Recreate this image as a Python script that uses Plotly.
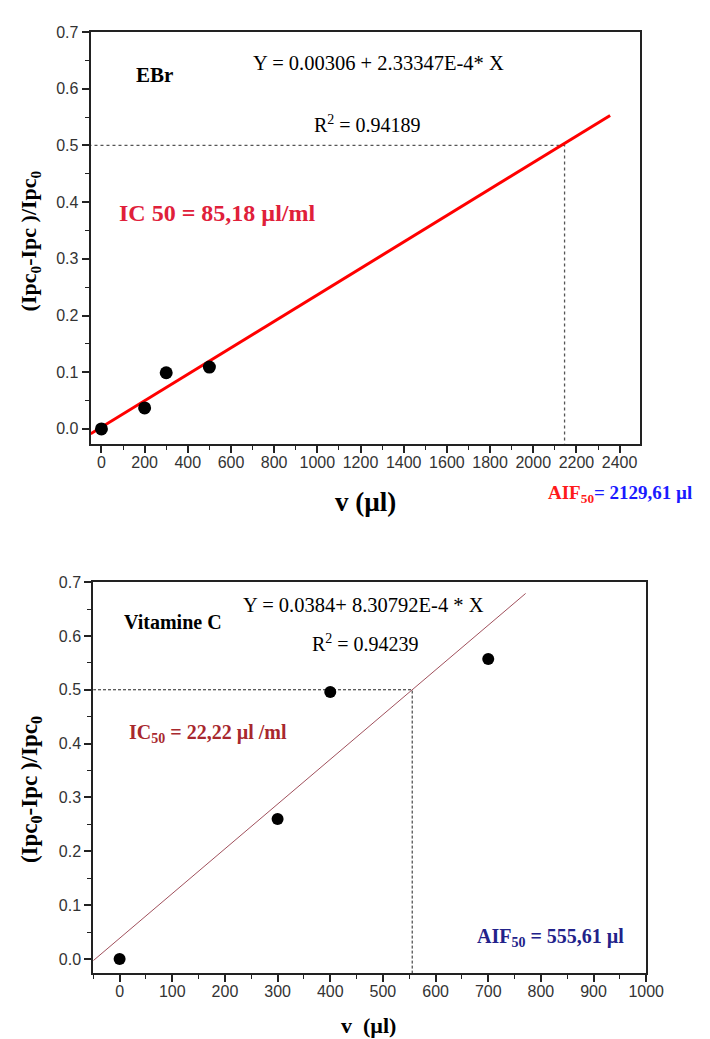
import plotly.graph_objects as go

# ---- data: EBr (top panel) ----
ebr_v = [0, 200, 300, 500]
ebr_y = [0.0, 0.037, 0.099, 0.109]
ebr_intercept = 0.00306
ebr_slope = 2.33347e-4
ebr_fit_x = [-50, 2356]
ebr_aif_drawn = 2145

# ---- data: Vitamine C (bottom panel) ----
vitc_v = [0, 300, 400, 700]
vitc_y = [0.0, 0.26, 0.496, 0.557]
vitc_intercept = 0.0384
vitc_slope = 8.30792e-4
vitc_fit_x = [-50, 771]
vitc_aif = 555.61

SERIF = "Liberation Serif"
SANS = "Liberation Sans"

fig = go.Figure()

# top panel
fig.add_trace(go.Scatter(x=[-60, ebr_aif_drawn, ebr_aif_drawn], y=[0.5, 0.5, -0.03],
                         mode="lines", line=dict(color="#555", width=1.3, dash="dot"),
                         xaxis="x", yaxis="y", showlegend=False, hoverinfo="skip"))
fig.add_trace(go.Scatter(x=ebr_fit_x, y=[ebr_intercept + ebr_slope * v for v in ebr_fit_x],
                         mode="lines", line=dict(color="#ff0000", width=3),
                         xaxis="x", yaxis="y", showlegend=False))
fig.add_trace(go.Scatter(x=ebr_v, y=ebr_y, mode="markers",
                         marker=dict(color="black", size=13),
                         xaxis="x", yaxis="y", showlegend=False))

# bottom panel
fig.add_trace(go.Scatter(x=[-60, vitc_aif, vitc_aif], y=[0.5, 0.5, -0.03],
                         mode="lines", line=dict(color="#222", width=1, dash="3px,2px"),
                         xaxis="x2", yaxis="y2", showlegend=False, hoverinfo="skip"))
fig.add_trace(go.Scatter(x=vitc_fit_x, y=[vitc_intercept + vitc_slope * v for v in vitc_fit_x],
                         mode="lines", line=dict(color="#a0505c", width=1),
                         xaxis="x2", yaxis="y2", showlegend=False))
fig.add_trace(go.Scatter(x=vitc_v, y=vitc_y, mode="markers",
                         marker=dict(color="black", size=12),
                         xaxis="x2", yaxis="y2", showlegend=False))

tickfont = dict(family=SANS, size=16, color="#333")

def xax(domain, rng, dtick, mdtick, anchor):
    return dict(domain=domain, range=rng, anchor=anchor, dtick=dtick, tick0=0,
                showline=True, linewidth=2, linecolor="#222", mirror=True,
                ticks="outside", ticklen=7, tickwidth=1.5, tickcolor="#222",
                ticklabelstandoff=-4,
                minor=dict(ticks="outside", ticklen=4, tickwidth=1.2, tickcolor="#222", dtick=mdtick, tick0=0),
                showgrid=False, zeroline=False, tickfont=tickfont)

def yax(domain, rng, anchor):
    return dict(domain=domain, range=rng, anchor=anchor, dtick=0.1, tick0=0, tickformat=".1f",
                showline=True, linewidth=2, linecolor="#222", mirror=True,
                ticks="outside", ticklen=7, tickwidth=1.5, tickcolor="#222",
                minor=dict(ticks="outside", ticklen=4, tickwidth=1.2, tickcolor="#222", dtick=0.05, tick0=0),
                showgrid=False, zeroline=False, tickfont=tickfont)

W, H = 710, 1039

fig.update_layout(
    width=W, height=H, margin=dict(l=0, r=0, t=0, b=0),
    plot_bgcolor="white", paper_bgcolor="white",
    xaxis=xax([93 / W, 657 / W], [-50, 2496], 200, 100, "y"),
    yaxis=yax([1 - 439 / H, 1 - 24 / H], [-0.026, 0.7005], "x"),
    xaxis2=xax([95.7 / W, 663.3 / W], [-50, 1000.5], 100, 50, "y2"),
    yaxis2=yax([1 - 972.7 / H, 1 - 578.3 / H], [-0.0265, 0.7005], "x2"),
)

ann = []
def add(text, x, y, xref, yref, size, color="black", **kw):
    d = dict(text=text, x=x, y=y, xref=xref, yref=yref, showarrow=False,
             xanchor="center", yanchor="middle",
             font=dict(family=SERIF, size=size, color=color))
    d.update(kw)
    ann.append(d)

# top panel texts
add("<b>EBr</b>", 247, 0.625, "x", "y", 21)
add("Y = 0.00306 + 2.33347E-4* X", 1283, 0.646, "x", "y", 20.5)
add("R<sup>2</sup> = 0.94189", 1234, 0.537, "x", "y", 20)
add("<b>IC 50 = 85,18 µl/ml</b>", 539, 0.3815, "x", "y", 24, "#e0203a")
add("<b><span style='color:#ff1a1a'>AIF<sub>50</sub></span>= 2129,61 µl</b>", 636 / W, 1 - 490 / H,
    "paper", "paper", 19, "#1a1aff")
add("<b>v (µl)</b>", 375.5 / W, 1 - 498 / H, "paper", "paper", 27)
add("<b>(Ipc<sub>0</sub>-Ipc )/Ipc<sub>0</sub></b>", 31 / W, 1 - 235 / H, "paper", "paper", 22, textangle=-90)

# bottom panel texts
add("<b>Vitamine C</b>", 101, 0.625, "x2", "y2", 20)
add("Y = 0.0384+ 8.30792E-4 * X", 464, 0.658, "x2", "y2", 20.5)
add("R<sup>2</sup> = 0.94239", 466, 0.586, "x2", "y2", 20)
add("<b>IC<sub>50</sub> = 22,22 µl /ml</b>", 167, 0.419, "x2", "y2", 20, "#a8282e")
add("<b>AIF<sub>50</sub> = 555,61 µl</b>", 818, 0.039, "x2", "y2", 20, "#22228a")
add("<b>v  (µl)</b>", 378 / W, 1 - 1025 / H, "paper", "paper", 22)
add("<b>(Ipc<sub>0</sub>-Ipc )/Ipc<sub>0</sub></b>", 32 / W, 1 - 788 / H, "paper", "paper", 23, textangle=-90)

fig.update_layout(annotations=ann)

fig.write_html("out.html")
